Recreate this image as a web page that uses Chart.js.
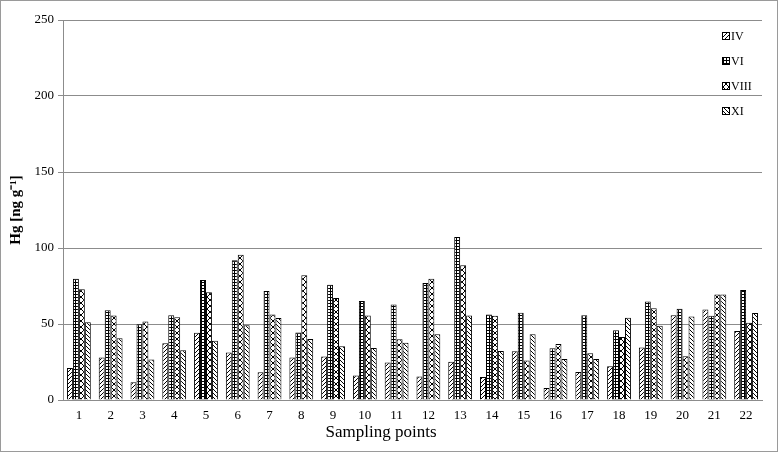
<!DOCTYPE html>
<html><head><meta charset="utf-8">
<script src="https://cdn.jsdelivr.net/npm/chart.js@4"></script>
<style>html,body{margin:0;padding:0;background:#fff}#wrap{width:779px;height:454px;position:relative}</style>
</head><body><div id="wrap"><canvas id="c" width="779" height="454"></canvas></div>
<script>
const categories = ['1','2','3','4','5','6','7','8','9','10','11','12','13','14','15','16','17','18','19','20','21','22'];
const seriesNames = ['IV','VI','VIII','XI'];
const valuesIV   = [21,28,11.7,37.3,44.2,31.3,18.3,28,28.7,16.1,24.7,15.5,25.2,15.2,32,7.9,18.5,22.2,34.5,55.7,59.6,45.4];
const valuesVI   = [79.7,59,49.9,55.8,79,92,71.7,44.4,75.9,65.1,62.9,77,107.3,56.3,57.4,34,55.8,45.9,64.8,60,55.5,72.3];
const valuesVIII = [72.8,55.6,51.7,54.5,70.9,95.6,56.3,82.1,67.1,55.6,40,79.7,88.7,55.4,26,36.9,30.7,41.4,60.3,28.8,69.4,50.9];
const valuesXI   = [51.2,40.6,26.7,32.7,38.9,49.2,53.9,40.2,35.3,34.2,37.7,43.3,55.6,32.2,43.3,26.9,26.9,54.1,48.9,55,69.4,57.2];
const yTicks = [0,50,100,150,200,250];

function makePattern(kind){
  const cv = document.createElement('canvas');
  const ctx = cv.getContext('2d');
  let s = 4;
  if (kind === 'grid') s = 3;
  if (kind === 'x') s = 6;
  cv.width = s; cv.height = s;
  ctx.fillStyle = '#fff'; ctx.fillRect(0,0,s,s);
  ctx.strokeStyle = '#000'; ctx.fillStyle = '#000'; ctx.lineWidth = 1;
  if (kind === 'fwd') {
    ctx.beginPath();
    ctx.moveTo(-1,s+1); ctx.lineTo(s+1,-1);
    ctx.moveTo(-1,1); ctx.lineTo(1,-1);
    ctx.moveTo(s-1,s+1); ctx.lineTo(s+1,s-1);
    ctx.stroke();
  } else if (kind === 'back') {
    ctx.beginPath();
    ctx.moveTo(-1,-1); ctx.lineTo(s+1,s+1);
    ctx.moveTo(s-1,-1); ctx.lineTo(s+1,1);
    ctx.moveTo(-1,s-1); ctx.lineTo(1,s+1);
    ctx.stroke();
  } else if (kind === 'grid') {
    ctx.fillRect(0,0,s,1); ctx.fillRect(0,0,1,s);
  } else if (kind === 'x') {
    ctx.beginPath();
    ctx.moveTo(0,0); ctx.lineTo(s,s);
    ctx.moveTo(s,0); ctx.lineTo(0,s);
    ctx.stroke();
  }
  return document.createElement('canvas').getContext('2d').createPattern(cv,'repeat');
}
const patterns = [makePattern('fwd'), makePattern('grid'), makePattern('x'), makePattern('back')];
const allValues = [valuesIV, valuesVI, valuesVIII, valuesXI];

const legendPlugin = {
  id: 'customLegend',
  afterDatasetsDraw(chart){
    const ctx = chart.ctx;
    ctx.save();
    ctx.font = '12px "Liberation Serif", "Times New Roman", serif';
    ctx.textBaseline = 'middle';
    ctx.fillStyle = '#000';
    chart.data.datasets.forEach((ds,i)=>{
      const yc = 36 + i*25;
      ctx.fillStyle = ds.backgroundColor;
      ctx.fillRect(722.5, yc-3.5, 7, 7);
      ctx.strokeStyle = '#000'; ctx.lineWidth = 1;
      ctx.strokeRect(722.5, yc-3.5, 7, 7);
      ctx.fillStyle = '#000';
      ctx.fillText(ds.label, 731, yc+0.5);
    });
    ctx.restore();
  }
};
const borderPlugin = {
  id: 'outerBorder',
  afterDraw(chart){
    const ctx = chart.ctx;
    ctx.save();
    ctx.strokeStyle = '#9a9a9a'; ctx.lineWidth = 1;
    ctx.strokeRect(0.5,0.5,777,451);
    ctx.restore();
  }
};
const bgPlugin = {
  id: 'bg',
  beforeDraw(chart){
    const ctx = chart.ctx; ctx.save(); ctx.fillStyle='#fff'; ctx.fillRect(0,0,chart.width,chart.height); ctx.restore();
  }
};

new Chart(document.getElementById('c'), {
  type: 'bar',
  data: {
    labels: categories,
    datasets: seriesNames.map((n,i)=>({
      label: n,
      data: allValues[i],
      backgroundColor: patterns[i],
      borderColor: '#000',
      borderWidth: 1,
      categoryPercentage: 0.75,
      barPercentage: 1.0
    }))
  },
  options: {
    responsive: false,
    animation: false,
    devicePixelRatio: 1,
    layout: { padding: { top: 20, right: 17, bottom: 0, left: 0 } },
    plugins: {
      legend: { display: false },
      tooltip: { enabled: false },
      title: {
        display: true,
        position: 'bottom',
        text: 'Sampling points',
        color: '#000',
        font: { family: '"Liberation Serif", "Times New Roman", serif', size: 17, weight: 'normal' },
        padding: { top: 0, bottom: 11 }
      }
    },
    scales: {
      x: {
        grid: { display: false, drawTicks: false },
        border: { display: true, color: '#8c8c8c', width: 1 },
        ticks: { color: '#000', padding: 8, maxRotation: 0, autoSkip: false,
          font: { family: '"Liberation Serif", "Times New Roman", serif', size: 13 } },
        afterFit(s){ s.height = 22.6; }
      },
      y: {
        min: 0, max: 250,
        afterBuildTicks(s){ s.ticks = yTicks.map(v=>({value:v})); },
        grid: { color: '#8c8c8c', lineWidth: 1, tickLength: 5, drawTicks: true },
        border: { display: true, color: '#8c8c8c', width: 1 },
        ticks: { color: '#000', padding: 4,
          font: { family: '"Liberation Serif", "Times New Roman", serif', size: 13 } },
        title: {
          display: true,
          text: 'Hg [ng g⁻¹]',
          color: '#000',
          font: { family: '"Liberation Serif", "Times New Roman", serif', size: 15, weight: 'bold' },
          padding: { top: 7, bottom: 0 }
        },
        afterFit(s){ s.width = 63; }
      }
    }
  },
  plugins: [bgPlugin, legendPlugin, borderPlugin]
});
</script>
</body></html>
